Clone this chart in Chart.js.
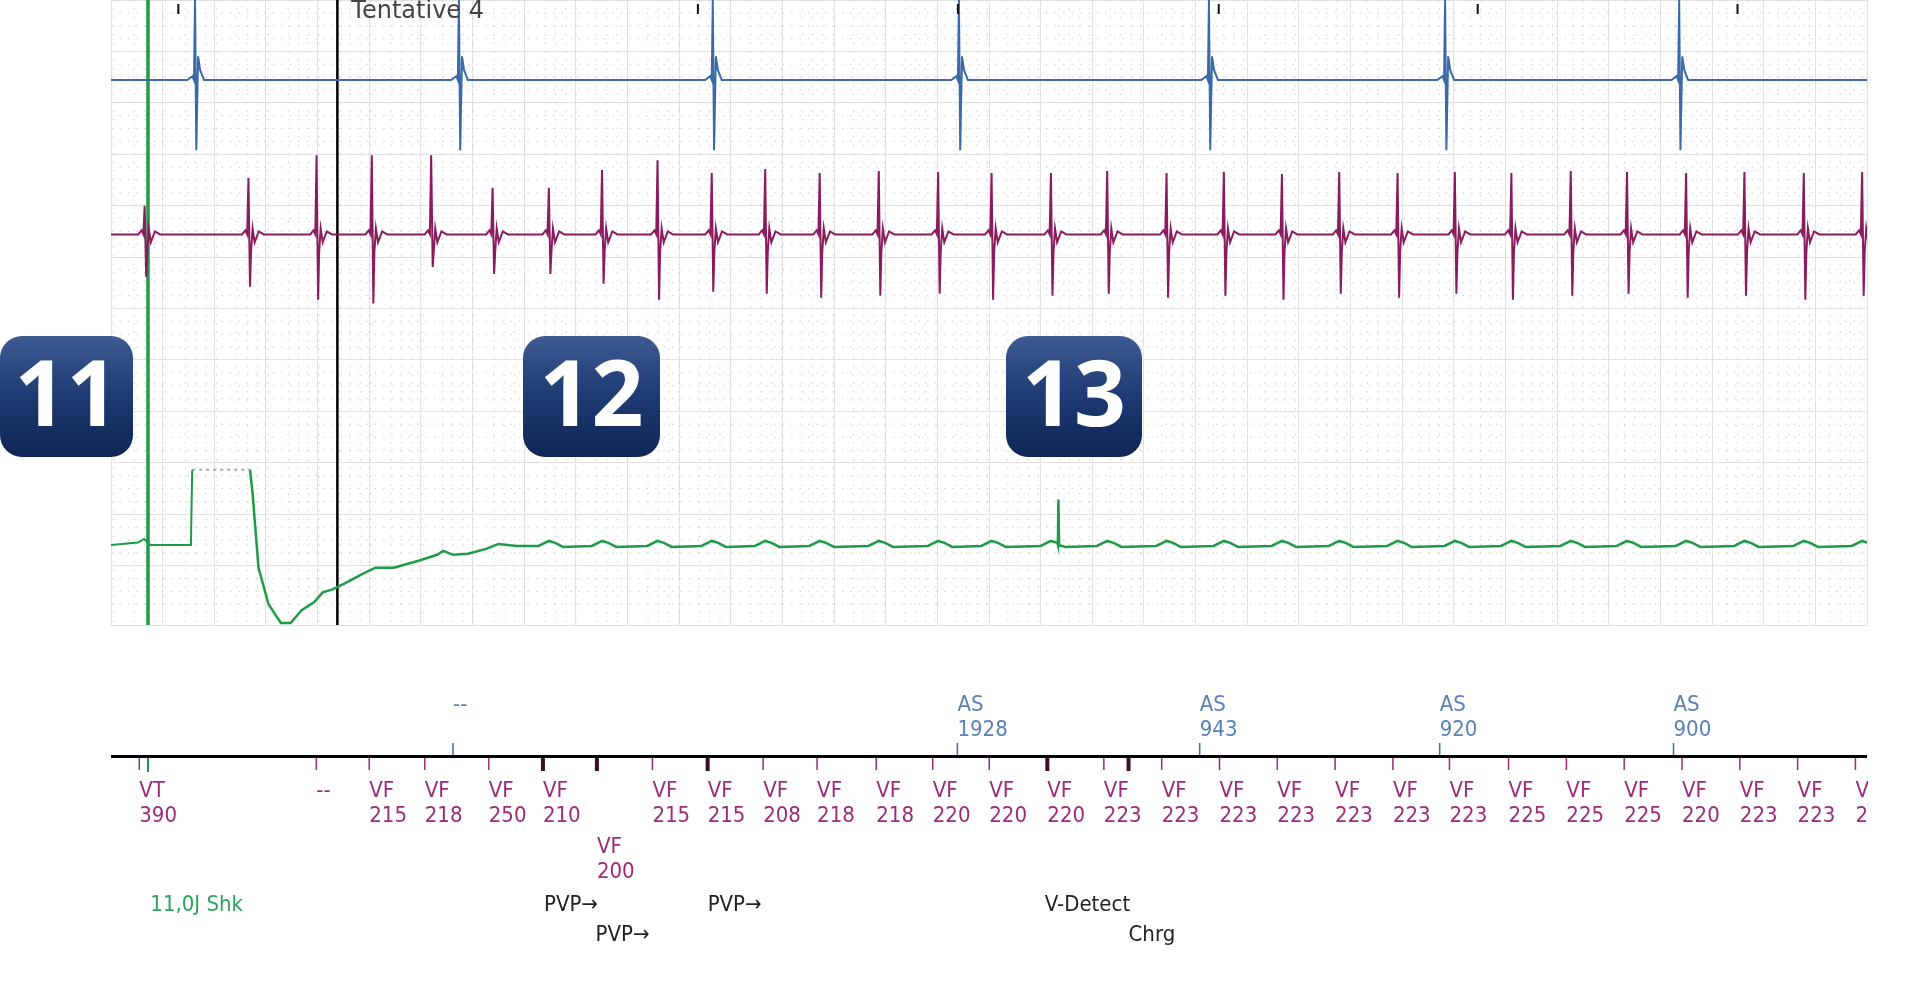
<!DOCTYPE html>
<html><head><meta charset="utf-8">
<script src="https://cdn.jsdelivr.net/npm/chart.js@4/dist/chart.umd.min.js"></script>
<style>html,body{margin:0;padding:0;background:#fff;overflow:hidden}#wrap{width:1930px;height:1007px}</style>
</head><body><div id="wrap"><canvas id="c"></canvas></div>
<script>
// ---- data (time in ms, deflection in display units) ----
const atrialBeats = [277, 1304, 2292, 3250, 4223, 5142, 6053];
const ventBeats = [81,485,750,965,1196,1435,1654,1861,2077,2288,2496,2708,2938,3169,3377,3608,3827,4058,4281,4507,4730,4957,5180,5400,5631,5850,6080,6307,6538,6765];
const ventUp =   [29,57,80,80,80,47,47,65,75,62,66,62,64,63,62,62,64,62,63,61,63,62,63,62,64,63,62,63,62,63];
const ventDown = [43,53,66,70,33,40,40,50,66,58,60,64,62,60,66,62,60,64,62,66,60,64,60,66,62,60,64,62,66,62];
const shockPts = [[-50,0],[55,-2.5],[79,-6],[103,0],[261,0],[266,-76]];
const shockPlateau = [[266,-76],[491,-76]];
const recoveryPts = [[491,-76],[501,-52],[524,23],[563,60],[611,79],[649,79],[692,66],[740,58],[774,48],[812,45],[860,39],[931,29],[979,23],[1051,23],[1147,16],[1219,10],[1243,6],[1281,10],[1339,9],[1410,4],[1458,-1],[1530,1]];
const artifactSpike = [3637, -46];
const topTicks = [212, 2234, 3246, 4261, 5269, 6280];
const atrialMarks = [[1281,'--',''],[3244,'AS','1928'],[4187,'AS','943'],[5121,'AS','920'],[6031,'AS','900']];
const ventMarks = [[60,'VT','390'],[749,'--',''],[955,'VF','215'],[1171,'VF','218'],[1420,'VF','250'],[1631,'VF','210'],[2057,'VF','215'],[2272,'VF','215'],[2488,'VF','208'],[2698,'VF','218'],[2928,'VF','218'],[3148,'VF','220'],[3368,'VF','220'],[3594,'VF','220'],[3814,'VF','223'],[4039,'VF','223'],[4264,'VF','223'],[4489,'VF','223'],[4714,'VF','223'],[4939,'VF','223'],[5159,'VF','223'],[5389,'VF','225'],[5614,'VF','225'],[5839,'VF','225'],[6064,'VF','220'],[6289,'VF','223'],[6514,'VF','223'],[6739,'VF','223']];
const ventMarksLow = [[1841,'VF','200']];
const thickTicks = [1631, 1841, 2272, 3594, 3910];
const eventText = [[103,905,'11,0J Shk','#2aa55a'],[1635,905,'PVP\u2192','#222'],[2272,905,'PVP\u2192','#222'],[3584,905,'V-Detect','#222'],[1836,935,'PVP\u2192','#222'],[3910,935,'Chrg','#222']];
const shockTime = 94, cursorTime = 831;
const badges = [['11',0,133],['12',523,660],['13',1006,1142]];

const BASE = {A:81, V:237, S:551};
const BLUE='#3b6aa6', MAG='#8a1b5f', GRN='#1f9b47';

const aTpl=[[-30,0],[-10,-4],[-4,0],[0,-81],[5,71],[12,-24],[20,-10],[35,0]];
function buildA(){const p=[{x:-50,y:BASE.A}];atrialBeats.forEach(t=>aTpl.forEach(([d,v])=>p.push({x:t+d,y:BASE.A+v})));p.push({x:6790,y:BASE.A});return p;}
function buildV(){const p=[{x:-50,y:BASE.V}];ventBeats.forEach((t,i)=>{const u=ventUp[i],dn=ventDown[i];
 [[-25,0],[-12,-4],[-5,0],[0,-u],[6,dn],[10,18],[16,-6],[24,8],[40,-3],[60,0]].forEach(([d,v])=>p.push({x:t+d,y:BASE.V+v}));});
 p.push({x:6790,y:BASE.V});return p;}
function buildS(){const p=shockPts.map(([x,v])=>({x,y:BASE.S+v}));const r=recoveryPts.map(([x,v])=>({x,y:BASE.S+v}));
 let rest=[];ventBeats.filter(t=>t>1530).forEach(t=>{[[-40,1],[0,-4],[25,-2],[55,2]].forEach(([d,v])=>rest.push({x:t+d,y:BASE.S+v}));});
 rest.push({x:artifactSpike[0]-2,y:BASE.S});rest.push({x:artifactSpike[0],y:BASE.S+artifactSpike[1]});rest.push({x:artifactSpike[0]+3,y:BASE.S});
 rest.sort((a,b)=>a.x-b.x);rest.push({x:6790,y:BASE.S});
 return {pre:p,rec:r.concat(rest)};}
const S=buildS();

const overlay={id:'overlay',
 beforeDatasetsDraw(ch){const {ctx,chartArea:a,scales:{x,y}}=ch;ctx.save();ctx.strokeStyle='#cfcfcf';ctx.lineWidth=1;ctx.setLineDash([1.5,7]);
  for(let t=-40;t<6800;t+=40){if(t%200===0)continue;const px=x.getPixelForValue(t);ctx.beginPath();ctx.moveTo(px,a.top);ctx.lineTo(px,a.bottom);ctx.stroke();}
  for(let r=13;r<632;r+=13){if(r%52===0)continue;const py=y.getPixelForValue(r);ctx.beginPath();ctx.moveTo(a.left,py);ctx.lineTo(a.right,py);ctx.stroke();}
  ctx.restore();},
 afterDraw(ch){const {ctx,chartArea:a,scales:{x}}=ch;ctx.save();
  const X=t=>x.getPixelForValue(t);
  ctx.strokeStyle='#111';ctx.lineWidth=2;topTicks.forEach(t=>{ctx.beginPath();ctx.moveTo(X(t),4);ctx.lineTo(X(t),14);ctx.stroke();});
  ctx.fillStyle='#444';ctx.font='24px "DejaVu Sans"';ctx.textBaseline='middle';ctx.fillText('Tentative 4',X(cursorTime)+14,12);
  ctx.fillStyle='#000';ctx.fillRect(a.left,755,a.right-a.left,3);
  ctx.beginPath();ctx.rect(0,0,a.right+1,1007);ctx.clip();
  ctx.font='22px "DejaVu Sans Condensed","DejaVu Sans"';ctx.textAlign='left';
  atrialMarks.forEach(([t,l1,l2])=>{ctx.strokeStyle=BLUE;ctx.lineWidth=1.5;ctx.beginPath();ctx.moveTo(X(t),743);ctx.lineTo(X(t),755);ctx.stroke();
    ctx.fillStyle='#5a80b8';ctx.fillText(l1,X(t),705);ctx.fillText(l2,X(t),730);});
  const vm=(arr,y1,y2)=>arr.forEach(([t,l1,l2])=>{ctx.strokeStyle='#9b2c77';ctx.lineWidth=1.5;ctx.beginPath();ctx.moveTo(X(t),758);ctx.lineTo(X(t),770);ctx.stroke();
    ctx.fillStyle='#9b2c77';ctx.fillText(l1,X(t),y1);ctx.fillText(l2,X(t),y2);});
  vm(ventMarks,791,816);vm(ventMarksLow,847,872);
  ctx.strokeStyle=GRN;ctx.lineWidth=2;ctx.beginPath();ctx.moveTo(X(shockTime),758);ctx.lineTo(X(shockTime),772);ctx.stroke();
  ctx.strokeStyle='#3a1028';ctx.lineWidth=4;thickTicks.forEach(t=>{ctx.beginPath();ctx.moveTo(X(t),758);ctx.lineTo(X(t),771);ctx.stroke();});
  eventText.forEach(([t,yy,s,c])=>{ctx.fillStyle=c;ctx.fillText(s,X(t),yy);});
  badges.forEach(([s,l,r])=>{const top=336,h=121,w=r-l;const g=ctx.createLinearGradient(0,top,0,top+h);g.addColorStop(0,'#3d5a92');g.addColorStop(0.5,'#1d3a72');g.addColorStop(1,'#0f2555');
    ctx.fillStyle=g;ctx.beginPath();ctx.roundRect(l,top,w,h,22);ctx.fill();
    ctx.fillStyle='#fff';ctx.font='bold 91px "Open Sans","DejaVu Sans"';ctx.textAlign='center';ctx.fillText(s,l+w/2,top+h/2+4);ctx.textAlign='left';});
  ctx.restore();}};

const ln=(data,color,w,extra={})=>Object.assign({data,borderColor:color,borderWidth:w,pointRadius:0,tension:0,fill:false},extra);
new Chart(document.getElementById('c'),{type:'line',
 data:{datasets:[
  ln(buildA(),BLUE,2),
  ln(buildV(),MAG,2),
  ln(S.pre,GRN,2),
  ln(shockPlateau.map(([x,v])=>({x,y:BASE.S+v})),'#aaa',2,{borderDash:[3,4]}),
  ln(S.rec,GRN,2.5),
  ln([{x:shockTime,y:0},{x:shockTime,y:632}],GRN,3.5),
  ln([{x:cursorTime,y:0},{x:cursorTime,y:632}],'#000',2.5)
 ]},
 plugins:[overlay],
 options:{responsive:true,maintainAspectRatio:false,animation:false,events:[],
  layout:{padding:{left:111,right:63,top:0,bottom:382}},
  plugins:{legend:{display:false},tooltip:{enabled:false}},
  scales:{x:{type:'linear',min:-50,max:6784,ticks:{display:false,stepSize:200},grid:{color:'#e2e2e2',drawTicks:false},border:{display:false}},
          y:{type:'linear',min:0,max:632,reverse:true,ticks:{display:false,stepSize:52},grid:{color:'#e2e2e2',drawTicks:false},border:{display:false}}}}});
</script></body></html>
